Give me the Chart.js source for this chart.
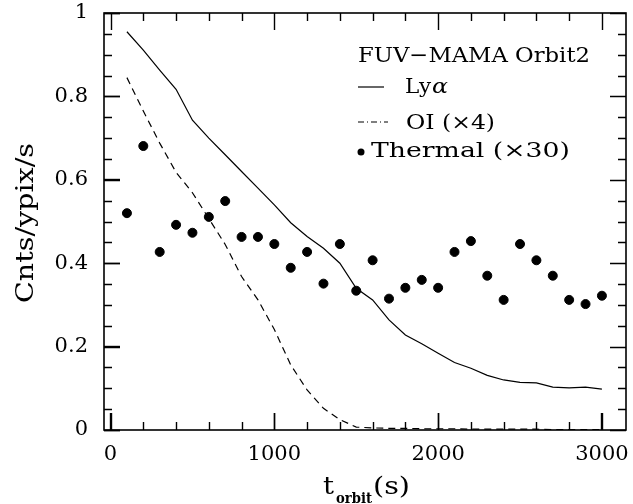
<!DOCTYPE html>
<html>
<head>
<meta charset="utf-8">
<script src="https://cdn.jsdelivr.net/npm/chart.js@4.4.1/dist/chart.umd.min.js"></script>
<style>
  html, body { margin: 0; padding: 0; background: #fff; }
</style>
</head>
<body>
<canvas id="grafico" width="633" height="504"></canvas>
<script>
// === Datos ===
const tiempos = [100, 200, 300, 400, 500, 600, 700, 800, 900, 1000,
  1100, 1200, 1300, 1400, 1500, 1600, 1700, 1800, 1900, 2000,
  2100, 2200, 2300, 2400, 2500, 2600, 2700, 2800, 2900, 3000];
const lyAlpha = [0.955, 0.911, 0.863, 0.817, 0.743, 0.700, 0.660, 0.620, 0.580, 0.540,
  0.497, 0.464, 0.436, 0.400, 0.340, 0.312, 0.264, 0.228, 0.207, 0.184,
  0.162, 0.148, 0.131, 0.120, 0.114, 0.113, 0.103, 0.101, 0.103, 0.098];
const oiX4 = [0.845, 0.765, 0.688, 0.618, 0.569, 0.507, 0.445, 0.368, 0.312, 0.241,
  0.156, 0.096, 0.052, 0.025, 0.007, 0.005, 0.004, 0.004, 0.003, 0.003,
  0.003, 0.002, 0.002, 0.002, 0.002, 0.002, 0.001, 0.001, 0.001, 0.001];
const thermalX30 = [0.520, 0.681, 0.427, 0.492, 0.473, 0.511, 0.549, 0.463, 0.463, 0.446,
  0.389, 0.427, 0.351, 0.446, 0.334, 0.407, 0.315, 0.341, 0.360, 0.341,
  0.427, 0.453, 0.370, 0.312, 0.446, 0.407, 0.370, 0.312, 0.302, 0.322];
const xTicks = [0, 1000, 2000, 3000];
const yTicks = [0, 0.2, 0.4, 0.6, 0.8, 1];
// ticks menores (cada 200 s y cada 0.05)
const xMinor = [200, 400, 600, 800, 1200, 1400, 1600, 1800, 2200, 2400, 2600, 2800];
const yMinor = [0.05, 0.1, 0.15, 0.25, 0.3, 0.35, 0.45, 0.5, 0.55, 0.65, 0.7, 0.75, 0.85, 0.9, 0.95];

const FUENTE = '"DejaVu Serif", serif';

function puntos(valores) {
  return tiempos.map((t, i) => ({ x: t, y: valores[i] }));
}

// texto estirado para ocupar un ancho dado (la fuente original es más ancha)
function textoAncho(ctx, texto, x, y, ancho) {
  const w = ctx.measureText(texto).width;
  ctx.save();
  ctx.translate(x, y);
  ctx.scale(ancho / w, 1);
  ctx.fillText(texto, 0, 0);
  ctx.restore();
}

// === Marco, ticks internos, leyenda y títulos ===
const decoraciones = {
  id: 'decoraciones',
  afterDraw(chart) {
    const ctx = chart.ctx;
    const a = chart.chartArea;
    const sx = chart.scales.x;
    const sy = chart.scales.y;
    ctx.save();
    ctx.fillStyle = '#000';
    ctx.strokeStyle = '#000';
    ctx.setLineDash([]);

    // ticks hacia adentro (los mayores de abajo/izquierda también los dibuja Chart.js)
    ctx.lineWidth = 1.4;
    ctx.beginPath();
    const tickX = (v, len) => {
      const px = Math.round(sx.getPixelForValue(v)) + 0.5;
      ctx.moveTo(px, a.bottom); ctx.lineTo(px, a.bottom - len);
      ctx.moveTo(px, a.top); ctx.lineTo(px, a.top + len);
    };
    const tickY = (v, len) => {
      const py = Math.round(sy.getPixelForValue(v)) + 0.5;
      ctx.moveTo(a.left, py); ctx.lineTo(a.left + len, py);
      ctx.moveTo(a.right, py); ctx.lineTo(a.right - len, py);
    };
    xTicks.forEach(v => tickX(v, 17));
    xMinor.forEach(v => tickX(v, 8));
    yTicks.forEach(v => tickY(v, 16));
    yMinor.forEach(v => tickY(v, 8));
    ctx.stroke();

    // marco
    ctx.lineWidth = 1.6;
    ctx.strokeRect(a.left, a.top, a.right - a.left, a.bottom - a.top);

    // leyenda
    ctx.textBaseline = 'alphabetic';
    ctx.textAlign = 'left';
    ctx.font = '21px ' + FUENTE;
    textoAncho(ctx, 'FUV\u2212MAMA Orbit2', 358, 62, 232);

    ctx.lineWidth = 1.2;
    ctx.beginPath();
    ctx.moveTo(358, 87); ctx.lineTo(384, 87);
    ctx.stroke();
    textoAncho(ctx, 'Ly', 405, 93, 26);
    ctx.font = 'italic 21px ' + FUENTE;
    textoAncho(ctx, '\u03b1', 432, 93, 16);

    ctx.font = '21px ' + FUENTE;
    ctx.setLineDash([6, 3, 1, 3]);
    ctx.beginPath();
    ctx.moveTo(358, 122); ctx.lineTo(388, 122);
    ctx.stroke();
    ctx.setLineDash([]);
    textoAncho(ctx, 'OI (\u00d74)', 406, 129, 89);

    ctx.beginPath();
    ctx.arc(361, 152, 3.5, 0, Math.PI * 2);
    ctx.fill();
    textoAncho(ctx, 'Thermal (\u00d730)', 371, 157, 199);

    // título eje x: t_orbit(s)
    ctx.font = '24px ' + FUENTE;
    textoAncho(ctx, 't', 323, 494, 11);
    ctx.font = 'bold 14px ' + FUENTE;
    textoAncho(ctx, 'orbit', 336, 503, 36);
    ctx.font = '24px ' + FUENTE;
    textoAncho(ctx, '(s)', 373, 494, 37);

    // título eje y
    ctx.translate(33, 303);
    ctx.rotate(-Math.PI / 2);
    ctx.font = '24px ' + FUENTE;
    textoAncho(ctx, 'Cnts/ypix/s', 0, 0, 160);
    ctx.restore();
  }
};

new Chart(document.getElementById('grafico'), {
  type: 'scatter',
  data: {
    datasets: [
      {
        label: 'Ly\u03b1',
        data: puntos(lyAlpha),
        showLine: true,
        borderColor: '#000',
        borderWidth: 1.2,
        pointRadius: 0,
        tension: 0
      },
      {
        label: 'OI (\u00d74)',
        data: puntos(oiX4),
        showLine: true,
        borderColor: '#000',
        borderWidth: 1.2,
        borderDash: [7, 5],
        pointRadius: 0,
        tension: 0
      },
      {
        label: 'Thermal (\u00d730)',
        data: puntos(thermalX30),
        showLine: false,
        backgroundColor: '#000',
        borderColor: '#000',
        pointRadius: 4.5
      }
    ]
  },
  options: {
    responsive: false,
    animation: false,
    layout: { padding: { left: 0, right: 7, top: 13, bottom: 0 } },
    plugins: { legend: { display: false }, tooltip: { enabled: false } },
    scales: {
      x: {
        type: 'linear',
        min: -40,
        max: 3147,
        // tick mayor hacia adentro con longitud negativa
        grid: { display: true, drawOnChartArea: false, drawTicks: true, tickLength: -17, tickColor: '#000', tickWidth: 1.4, color: '#000' },
        border: { display: false },
        afterBuildTicks: s => { s.ticks = xTicks.map(v => ({ value: v })); },
        afterFit: s => { s.height = 74; s.paddingLeft = 0; s.paddingRight = 0; },
        ticks: {
          color: '#000',
          font: { family: FUENTE, size: 21 },
          padding: 29,
          maxRotation: 0,
          callback: v => String(v)
        }
      },
      y: {
        type: 'linear',
        min: 0,
        max: 1,
        grid: { display: true, drawOnChartArea: false, drawTicks: true, tickLength: -16, tickColor: '#000', tickWidth: 1.4, color: '#000' },
        border: { display: false },
        afterBuildTicks: s => { s.ticks = yTicks.map(v => ({ value: v })); },
        afterFit: s => { s.width = 104; s.paddingTop = 0; s.paddingBottom = 0; },
        ticks: {
          color: '#000',
          font: { family: FUENTE, size: 21 },
          padding: 32,
          callback: v => String(v)
        }
      }
    }
  },
  plugins: [decoraciones]
});
</script>
</body>
</html>
